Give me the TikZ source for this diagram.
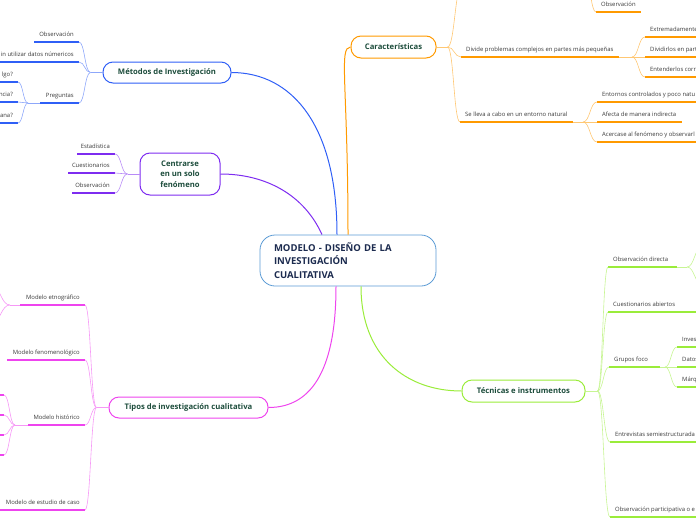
\documentclass[tikz,border=0pt]{standalone}
\usepackage{fontspec}
\setmainfont{Open Sans}
\usetikzlibrary{positioning,calc}
\definecolor{rootblue}{HTML}{5B9BD5}
\definecolor{rootink}{HTML}{1C2B4F}
\definecolor{topicink}{HTML}{1D4D3C}
\definecolor{leafink}{HTML}{3A3A3A}
\definecolor{cblue}{HTML}{2F5FF6}
\definecolor{cpurple}{HTML}{7E2CF0}
\definecolor{corange}{HTML}{FF9A00}
\definecolor{cgreen}{HTML}{9AEC3A}
\definecolor{cmagenta}{HTML}{EE44EE}
\colorlet{brc}{black}
\tikzset{
  topic/.style={draw=brc, line width=1pt, fill=white, rounded corners=10pt,
    font=\fontsize{7.7}{10.5}\selectfont\bfseries, text=topicink, align=center, inner sep=2pt},
  leaf/.style={font=\fontsize{5.9}{7}\selectfont, text=leafink, text height=4.3pt,
    text depth=1.4pt, inner xsep=5pt, inner ysep=4pt},
  uline/.style={draw=brc, line width=1.3pt},
  twig/.style={draw=brc!55, line width=0.6pt},
  limb/.style={draw=brc, line width=1pt},
  link/.style={to path={let \p1=(\tikztostart), \p2=(\tikztotarget) in
    .. controls ({(\x1+\x2)/2},\y1) and ({(\x1+\x2)/2},\y2) .. (\tikztotarget)}}
}

\begin{document}
\begin{tikzpicture}[x=1pt,y=-1pt]
    \def\leafL(#1)(#2,#3)#4#5{
      \node [leaf, anchor=south east] (#1) at (#2,#3) {#5};
      \draw [uline] (#1.south east) -- ++(-#4,0);
    }
    \def\leafR(#1)(#2,#3)#4#5{
      \node [leaf, anchor=south west] (#1) at (#2,#3) {#5};
      \draw [uline] (#1.south west) -- ++(#4,0);
    }
  \useasboundingbox (0,0) rectangle (696,520);
  \clip (0,0) rectangle (696,520);

  \node [draw=rootblue, line width=0.8pt, rounded corners=15pt, fill=white,
    text width=148pt, minimum height=51pt, inner xsep=14pt, align=left,
    font=\fontsize{9.5}{13.5}\selectfont\bfseries, text=rootink]
    (root) at (348,260.5) {MODELO - DISEÑO DE LA\\INVESTIGACIÓN\\CUALITATIVA};

  \begin{scope}
    \colorlet{brc}{cblue}
    \node [topic, minimum width=128pt, minimum height=21pt] (met) at (167,72.5) {Métodos de Investigación};
    \draw [limb] ([xshift=-11pt]root.north) .. controls +(0,-110) and +(60,0) .. (met.east);
    \coordinate (met-j) at ([xshift=-12pt]met.west);
    \leafL(m-obs)(79,42){45}{Observación}
    \leafL(m-sin)(79,62){85}{in utilizar datos númericos}
    \leafL(m-pre)(79,103){39}{Preguntas}
    \draw [twig] (met.west) -- (met-j);
    \foreach \t in {m-obs,m-sin,m-pre}
      \draw [twig] (met-j) to[link] (\t.south east);
    \coordinate (pre-j) at ([xshift=-51pt]m-pre.south east);
    \draw [twig] ([xshift=-39pt]m-pre.south east) -- (pre-j);
    \foreach \l/\y [count=\i] in {lgo?/82,ncia?/102,ana?/123}{
      \leafL(p-\i)(18,\y){30}{\l}
      \draw [twig] (pre-j) to[link] (p-\i.south east);
    }
  \end{scope}

  \begin{scope}
    \colorlet{brc}{cpurple}
    \node [topic, minimum width=80pt, minimum height=42pt] (cen) at (180,174) {Centrarse\\en un solo\\fenómeno};
    \draw [limb] ([xshift=-26pt]root.north) .. controls +(-18,-40) and +(45,0) .. (cen.east);
    \coordinate (cen-j) at ([xshift=-12pt]cen.west);
    \draw [twig] (cen.west) -- (cen-j);
    \leafL(c-est)(115,154){38}{Estadística}
    \leafL(c-cue)(115,173){47}{Cuestionarios}
    \leafL(c-obs)(115,193){43}{Observación}
    \foreach \t in {c-est,c-cue,c-obs}
      \draw [twig] (cen-j) to[link] (\t.south east);
  \end{scope}

  \begin{scope}
    \colorlet{brc}{cmagenta}
    \node [topic, minimum width=159pt, minimum height=21pt] (tip) at (188.5,407.5) {Tipos de investigación cualitativa};
    \draw [limb] ([xshift=-12pt]root.south) .. controls +(0,80) and +(45,0) .. (tip.east);
    \coordinate (tip-j) at ([xshift=-12pt]tip.west);
    \draw [twig] (tip.west) -- (tip-j);
    \leafL(t-etn)(85,305){65}{Modelo etnográfico}
    \leafL(t-fen)(85,360){78}{Modelo fenomenológico}
    \leafL(t-his)(85,425){57}{Modelo histórico}
    \leafL(t-cas)(85,510){85}{Modelo de estudio de caso}
    \foreach \t in {t-etn,t-fen,t-his,t-cas}
      \draw [twig] (tip-j) to[link] (\t.south east);
    \coordinate (etn-j) at ([xshift=-75pt]t-etn.south east);
    \coordinate (etn-a) at (-8,287);
    \coordinate (etn-b) at (-8,322);
    \draw [twig] ([xshift=-65pt]t-etn.south east) -- (etn-j);
    \draw [twig] (etn-j) to[link] (etn-a);
    \draw [twig] (etn-j) to[link] (etn-b);
    \coordinate (his-j) at ([xshift=-70pt]t-his.south east);
    \draw [twig] ([xshift=-57pt]t-his.south east) -- (his-j);
    \foreach \y [count=\i] in {395,415,435,455}{
      \leafL(h-\i)(4,\y){20}{}
      \draw [twig] (his-j) to[link] (h-\i.south east);
    }
  \end{scope}

  \begin{scope}
    \colorlet{brc}{corange}
    \node [topic, minimum width=85pt, minimum height=22pt] (car) at (393.5,47) {Características};
    \draw [limb] (root.north) .. controls +(0,-150) and +(-12,0) .. (car.west);
    \coordinate (car-j) at ([xshift=11pt]car.east);
    \draw [twig] (car.east) -- (car-j);
    \coordinate (k-top) at (462,-14);
    \draw [twig] (car-j) to[link] (k-top);
    \coordinate (ktop-j) at (586,-16);
    \leafR(k-obs)(596,12){45}{Observación}
    \draw [twig] (ktop-j) to[link] (k-obs.south west);
    \leafR(k-div)(461,57){158}{Divide problemas complejos en partes más pequeñas}
    \leafR(k-sel)(460,122){113}{Se lleva a cabo en un entorno natural}
    \foreach \t in {k-div,k-sel}
      \draw [twig] (car-j) to[link] (\t.south west);
    \coordinate (div-j) at ([xshift=171pt]k-div.south west);
    \draw [twig] ([xshift=158pt]k-div.south west) -- (div-j);
    \foreach \l/\y [count=\i] in {Extremadamente/37,Dividirlos en parte/57,Entenderlos corre/77}{
      \leafR(kd-\i)(645,\y){60}{\l}
      \draw [twig] (div-j) to[link] (kd-\i.south west);
    }
    \coordinate (sel-j) at ([xshift=123pt]k-sel.south west);
    \draw [twig] ([xshift=113pt]k-sel.south west) -- (sel-j);
    \foreach \l/\y/\w [count=\i] in {Entornos controlados y poco natu/102/110,Afecta de manera indirecta/122/85,Acercase al fenómeno y observarl/142/110}{
      \leafR(ks-\i)(597,\y){\w}{\l}
      \draw [twig] (sel-j) to[link] (ks-\i.south west);
    }
  \end{scope}

  \begin{scope}
    \colorlet{brc}{cgreen}
    \node [topic, minimum width=123pt, minimum height=22pt] (tec) at (523.5,391) {Técnicas e instrumentos};
    \draw [limb] ([xshift=13pt]root.south) .. controls +(0,70) and +(-55,0) .. (tec.west);
    \coordinate (tec-j) at ([xshift=12pt]tec.east);
    \draw [twig] (tec.east) -- (tec-j);
    \leafR(g-dir)(608,267){69}{Observación directa}
    \leafR(g-cue)(608,312){95}{Cuestionarios abiertos}
    \leafR(g-gru)(609,367){51}{Grupos foco}
    \leafR(g-ent)(610,442){90}{Entrevistas semiestructurada}
    \leafR(g-par)(610,517){90}{Observación participativa o e}
    \foreach \t in {g-dir,g-cue,g-gru,g-ent,g-par}
      \draw [twig] (tec-j) to[link] (\t.south west);
    \coordinate (dir-j) at ([xshift=79pt]g-dir.south west);
    \coordinate (dir-a) at (702,247);
    \coordinate (dir-b) at (702,284);
    \draw [twig] ([xshift=69pt]g-dir.south west) -- (dir-j);
    \draw [twig] (dir-j) to[link] (dir-a);
    \draw [twig] (dir-j) to[link] (dir-b);
    \coordinate (gru-j) at ([xshift=56pt]g-gru.south west);
    \draw [twig] ([xshift=51pt]g-gru.south west) -- (gru-j);
    \foreach \l/\y [count=\i] in {Inves/347,Datos/367,Márq/387}{
      \leafR(gg-\i)(677,\y){30}{\l}
      \draw [twig] (gru-j) to[link] (gg-\i.south west);
    }
  \end{scope}
\end{tikzpicture}
\end{document}
